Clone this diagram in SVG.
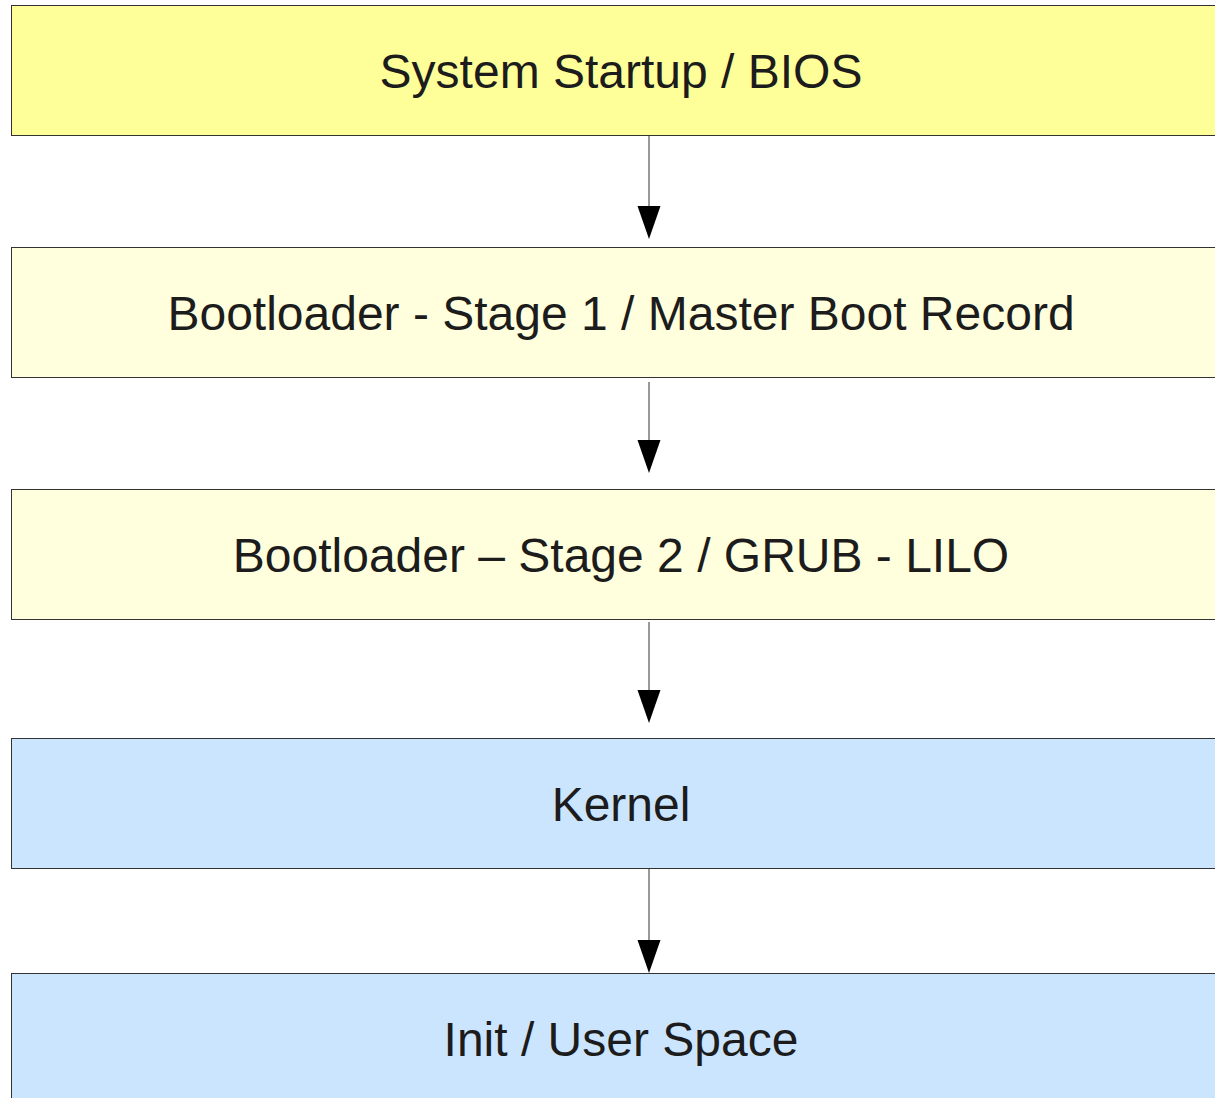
<svg xmlns="http://www.w3.org/2000/svg" width="1215" height="1098" viewBox="0 0 1215 1098">
<style>
.box{stroke:#333333;stroke-width:1}
.t{font-family:"Liberation Sans",Arial,sans-serif;font-size:48px;fill:#1c1c1c;text-anchor:middle}
.c{stroke:#555555;stroke-width:1.2;fill:none}
</style>
<rect width="1215" height="1098" fill="#fff"/>
<g id="n1"><rect class="box" x="11.5" y="5.5" width="1215" height="130" fill="#ffff99"/><text class="t" x="621" y="88">System Startup / BIOS</text></g>
<g id="n2"><rect class="box" x="11.5" y="247.5" width="1215" height="130" fill="#ffffdd"/><text class="t" x="621" y="330">Bootloader - Stage 1 / Master Boot Record</text></g>
<g id="n3"><rect class="box" x="11.5" y="489.5" width="1215" height="130" fill="#ffffdd"/><text class="t" x="621" y="572">Bootloader – Stage 2 / GRUB - LILO</text></g>
<g id="n4"><rect class="box" x="11.5" y="738.5" width="1215" height="130" fill="#cce5ff"/><text class="t" x="621" y="821">Kernel</text></g>
<g id="n5"><rect class="box" x="11.5" y="973.5" width="1215" height="130" fill="#cce5ff"/><text class="t" x="621" y="1056">Init / User Space</text></g>
<g id="connectors">
<line class="c" x1="649" y1="136" x2="649" y2="207"/><path d="M637.5,206 L660.5,206 L649,239 Z"/>
<line class="c" x1="649" y1="382" x2="649" y2="441"/><path d="M637.5,440 L660.5,440 L649,473 Z"/>
<line class="c" x1="649" y1="622" x2="649" y2="691"/><path d="M637.5,690 L660.5,690 L649,723 Z"/>
<line class="c" x1="649" y1="869" x2="649" y2="941"/><path d="M637.5,940 L660.5,940 L649,973 Z"/>
</g>
</svg>
